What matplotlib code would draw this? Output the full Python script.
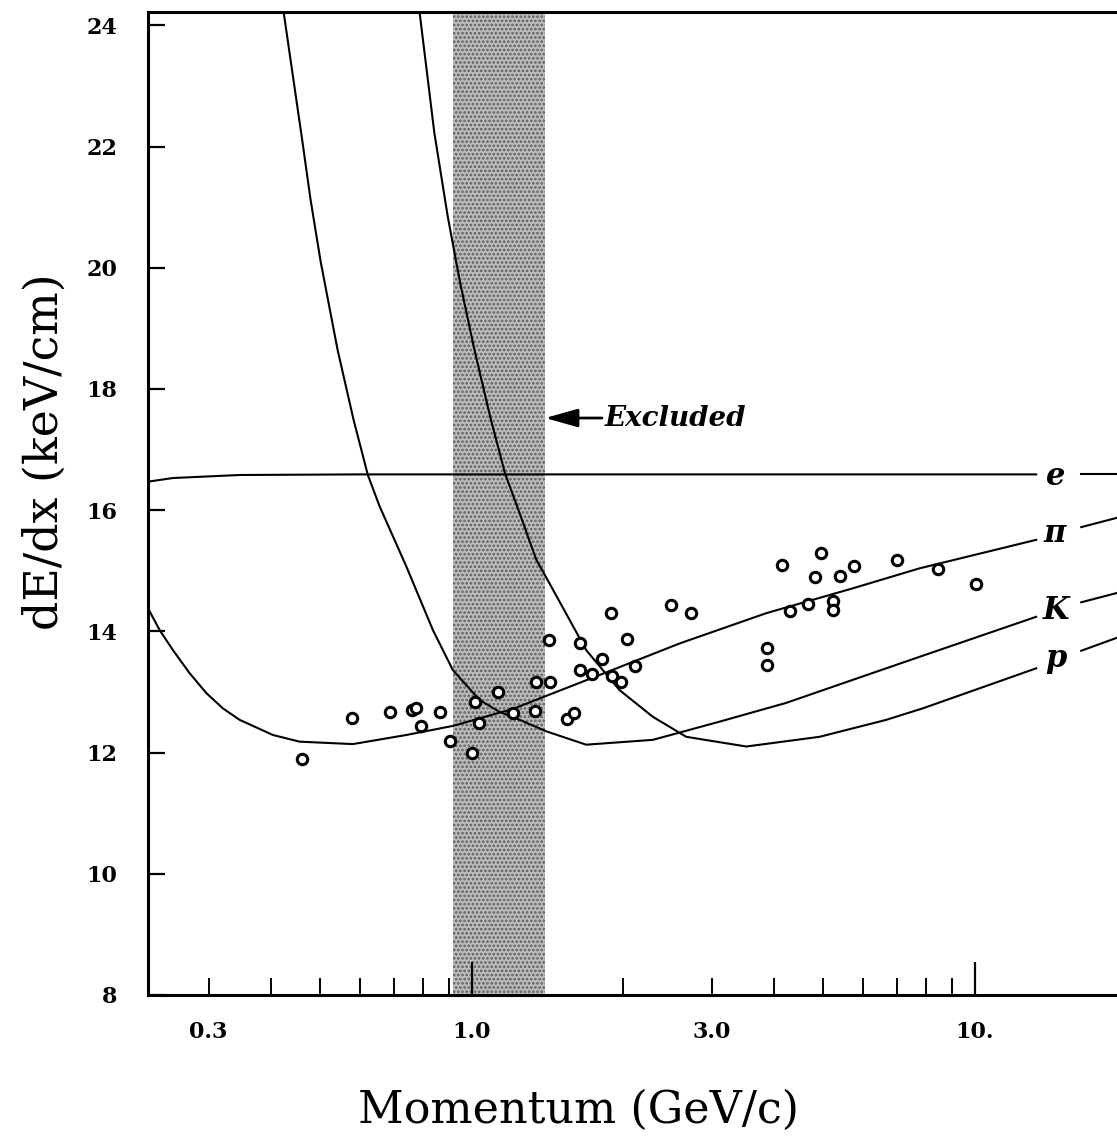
import matplotlib
matplotlib.use("Agg")
import matplotlib.pyplot as plt
import numpy as np

# measured tracks (momentum GeV/c, dE/dx keV/cm)
track_p = [0.461, 0.578, 0.689, 0.762, 0.776, 0.794, 0.865, 0.907, 1.000, 1.014,
           1.033, 1.131, 1.208, 1.334, 1.345, 1.429, 1.427, 1.545, 1.600, 1.645,
           1.645, 1.735, 1.816, 1.889, 1.901, 1.981, 2.040, 2.116, 2.495, 2.734,
           3.865, 3.865, 4.147, 4.301, 4.672, 4.815, 4.949, 5.221, 5.221, 5.391,
           5.754, 6.998, 8.469, 10.09]
track_dedx = [11.89, 12.57, 12.67, 12.70, 12.74, 12.44, 12.67, 12.19, 11.99, 12.83,
              12.49, 13.00, 12.65, 12.69, 13.16, 13.17, 13.85, 12.56, 12.66, 13.80,
              13.36, 13.29, 13.54, 14.31, 13.26, 13.16, 13.87, 13.43, 14.44, 14.30,
              13.73, 13.45, 15.10, 14.33, 14.45, 14.89, 15.29, 14.50, 14.35, 14.92,
              15.08, 15.18, 15.03, 14.78]

# expected curves
e_p = [0.2273, 0.2548, 0.3457, 0.60, 1.0, 3.0, 8.0, 13.26, 16.30, 19.13]
e_v = [16.47, 16.53, 16.58, 16.59, 16.59, 16.59, 16.59, 16.59, 16.59, 16.59]

pi_p = [0.2273, 0.2398, 0.2548, 0.275, 0.2970, 0.3202, 0.3457, 0.4027, 0.4550,
        0.5807, 0.7418, 0.918, 1.208, 1.797, 2.591, 3.854, 5.728, 7.776, 13.26,
        16.30, 19.13]
pi_v = [14.38, 14.02, 13.69, 13.31, 12.98, 12.73, 12.54, 12.29, 12.18,
        12.14, 12.29, 12.44, 12.72, 13.28, 13.80, 14.30, 14.71, 15.04, 15.51,
        15.72, 15.87]

k_p = [0.4229, 0.4604, 0.4785, 0.5011, 0.5416, 0.5826, 0.6219, 0.6565, 0.7418,
       0.8378, 0.918, 1.037, 1.137, 1.246, 1.408, 1.690, 2.293, 3.112, 4.223,
       5.728, 7.776, 13.26, 16.30, 19.13]
k_v = [24.22, 22.11, 21.12, 20.10, 18.64, 17.49, 16.58, 16.06, 15.07,
       14.02, 13.36, 12.87, 12.67, 12.54, 12.35, 12.13, 12.21, 12.51, 12.82,
       13.20, 13.58, 14.24, 14.48, 14.63]

pr_p = [0.788, 0.8434, 0.8968, 0.949, 1.0134, 1.089, 1.165, 1.246, 1.345, 1.429,
        1.690, 1.969, 2.293, 2.672, 3.517, 4.918, 6.676, 7.894, 13.26, 16.30, 19.13]
pr_v = [24.22, 22.22, 20.84, 19.75, 18.64, 17.54, 16.61, 15.95, 15.18, 14.79,
        13.69, 13.03, 12.59, 12.26, 12.10, 12.26, 12.54, 12.73, 13.39, 13.68, 13.89]

curve_labels = ["e", r"$\boldsymbol{\pi}$", "K", "p"]
label_v = [16.55, 15.62, 14.35, 13.55]
label_p = 14.5
band = (0.917, 1.397)
gap = (13.5, 16.0)

plt.rcParams["font.family"] = ["DejaVu Serif"]
plt.rcParams["mathtext.fontset"] = "dejavuserif"
plt.rcParams["hatch.linewidth"] = 1.3

fig = plt.figure(figsize=(11.17, 11.40), dpi=100)
ax = fig.add_axes([0.1325, 0.1272, 1.0 - 0.1325, 0.9895 - 0.1272])

ax.set_xscale("log")
ax.set_xlim(0.2273, 19.2)
ax.set_ylim(8, 24.22)

ax.axvspan(band[0], band[1], facecolor="#bcbcbc", edgecolor="#5e5e5e",
           hatch="....", linewidth=0, zorder=0)

for cp, cv in [(e_p, e_v), (pi_p, pi_v), (k_p, k_v), (pr_p, pr_v)]:
    cp = np.array(cp)
    cv = np.array(cv)
    left = cp <= gap[0]
    right = cp >= gap[1]
    ax.plot(cp[left], cv[left], color="black", lw=1.5, zorder=2)
    ax.plot(cp[right], cv[right], color="black", lw=1.5, zorder=2)

for lab, lv in zip(curve_labels, label_v):
    ax.text(label_p, lv, lab, ha="center", va="center", fontsize=22,
            fontweight="bold", fontstyle="italic", zorder=3)

ax.plot(track_p, track_dedx, linestyle="none", marker="o", ms=7.5,
        mfc="white", mec="black", mew=2.2, zorder=4)

ax.annotate("Excluded", xy=(1.40, 17.52), xytext=(1.84, 17.52),
            ha="left", va="center", fontsize=20, fontweight="bold",
            fontstyle="italic",
            arrowprops=dict(arrowstyle="-|>,head_length=1.0,head_width=0.28",
                            color="black", lw=2, shrinkA=0, shrinkB=0))

ax.set_xticks([1, 10], ["1.0", "10."])
minor = [0.3, 0.4, 0.5, 0.6, 0.7, 0.8, 0.9, 2, 3, 4, 5, 6, 7, 8, 9]
minor_lab = ["3.0" if m == 3 else ("0.3" if m == 0.3 else "") for m in minor]
ax.set_xticks(minor, minor_lab, minor=True)
ax.set_yticks(np.arange(8, 25, 2))

ax.tick_params(axis="x", which="major", direction="in", length=24, width=1.6,
               pad=19, labelsize=16)
ax.tick_params(axis="x", which="minor", direction="in", length=12, width=1.4,
               pad=19, labelsize=16)
ax.tick_params(axis="y", which="both", direction="in", length=12, width=1.6,
               pad=22, labelsize=16)
for lbl in ax.get_xticklabels(which="both") + ax.get_yticklabels():
    lbl.set_fontweight("bold")

for side in ["left", "bottom", "top"]:
    ax.spines[side].set_linewidth(2.2)
ax.spines["right"].set_visible(False)

fig.text(0.040, 0.6035, "dE/dx (keV/cm)", rotation=90, ha="center",
         va="center", fontsize=33)
fig.text(0.518, 0.026, "Momentum (GeV/c)", ha="center", va="center",
         fontsize=32)

fig.savefig("out.png", dpi=100)
